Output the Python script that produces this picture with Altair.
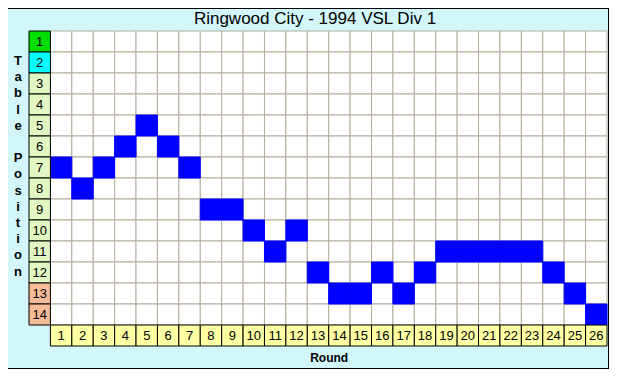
import altair as alt
import pandas as pd

# ---- data ----
rounds = list(range(1, 27))
positions = [7, 8, 7, 6, 5, 6, 7, 9, 9, 10, 11, 10, 12, 13, 13, 12, 13, 12, 11, 11, 11, 11, 11, 12, 13, 14]
table_rows = list(range(1, 15))
row_colors = ["#00DD00", "#00FFFF"] + ["#E2F8C2"] * 10 + ["#F6BC98"] * 2
title_text = "Ringwood City - 1994 VSL Div 1"
y_title_words = ["Table", "Position"]
x_title = "Round"

ROUND_ROW = 15  # extra band row holding the round numbers
LABEL_COL = 0   # extra band column holding the position numbers

grid_df = pd.DataFrame([{"col": r, "row": p} for r in rounds for p in table_rows])
pos_df = pd.DataFrame({"col": rounds, "row": positions})
lab_df = pd.DataFrame({"col": LABEL_COL, "row": table_rows,
                       "label": [str(p) for p in table_rows], "color": row_colors})
rnd_df = pd.DataFrame({"col": rounds, "row": ROUND_ROW, "label": [str(r) for r in rounds]})

W, H = 578, 315
xscale = alt.Scale(domain=[LABEL_COL] + rounds, paddingInner=0, paddingOuter=0)
yscale = alt.Scale(domain=table_rows + [ROUND_ROW], paddingInner=0, paddingOuter=0)

cell_w = W / 27
xaxis = alt.Axis(labels=False, ticks=False, domain=False, grid=False, title=x_title,
                 titleFontWeight="bold", titleFontSize=12, titleFont="Liberation Sans",
                 titleX=(cell_w + W) / 2, titleY=11, titleBaseline="middle", titleAlign="center",
                 titleColor="black")

X = alt.X("col:O", scale=xscale, axis=xaxis)
Y = alt.Y("row:O", scale=yscale, axis=None)

grid = alt.Chart(grid_df).mark_rect(fill="white", stroke="#B4AC9C", strokeWidth=1).encode(x=X, y=Y)
blue = alt.Chart(pos_df).mark_rect(fill="#0000FF", stroke="#0000FF", strokeWidth=1).encode(x=X, y=Y)
lab_rect = alt.Chart(lab_df).mark_rect(stroke="black", strokeWidth=1).encode(
    x=X, y=Y, fill=alt.Fill("color:N", scale=None))
lab_text = alt.Chart(lab_df).mark_text(fontSize=13, font="Liberation Sans", color="black").encode(
    x=X, y=Y, text="label:N")
rnd_rect = alt.Chart(rnd_df).mark_rect(fill="#FFFFA4", stroke="black", strokeWidth=1).encode(x=X, y=Y)
rnd_text = alt.Chart(rnd_df).mark_text(fontSize=13, font="Liberation Sans", color="black").encode(
    x=X, y=Y, text="label:N")

LH = 16.2
one = pd.DataFrame({"k": [0]})
ytitle_layers = []
line_start = 0
for word in y_title_words:
    ytitle_layers.append(
        alt.Chart(one).mark_text(
            fontSize=13, fontWeight="bold", font="Liberation Sans", color="black",
            lineHeight=LH, baseline="top", align="center").encode(
            x=alt.value(-11), y=alt.value(24 + line_start * LH), text=alt.value(list(word))))
    line_start += len(word) + 1

border = alt.Chart(pos_df).mark_rect(fill=None, stroke="black", strokeWidth=1).encode(
    x=alt.value(-21.5), x2=alt.value(W + 1.5), y=alt.value(-22.5), y2=alt.value(H + 22.5))

chart = alt.layer(grid, blue, lab_rect, lab_text, rnd_rect, rnd_text, *ytitle_layers, border).properties(
    width=W, height=H,
    title=alt.TitleParams(text=title_text, fontSize=17, fontWeight="normal", font="Liberation Sans",
                          anchor="middle", offset=-20, dx=-3, color="black"),
    background="#D2F6FA",
    autosize=alt.AutoSizeParams(type="none"),
    padding={"left": 21, "top": 23, "right": 2, "bottom": 23},
).configure_view(stroke=None)

chart.save("out.html", embed_options={"renderer": "svg", "actions": False})
